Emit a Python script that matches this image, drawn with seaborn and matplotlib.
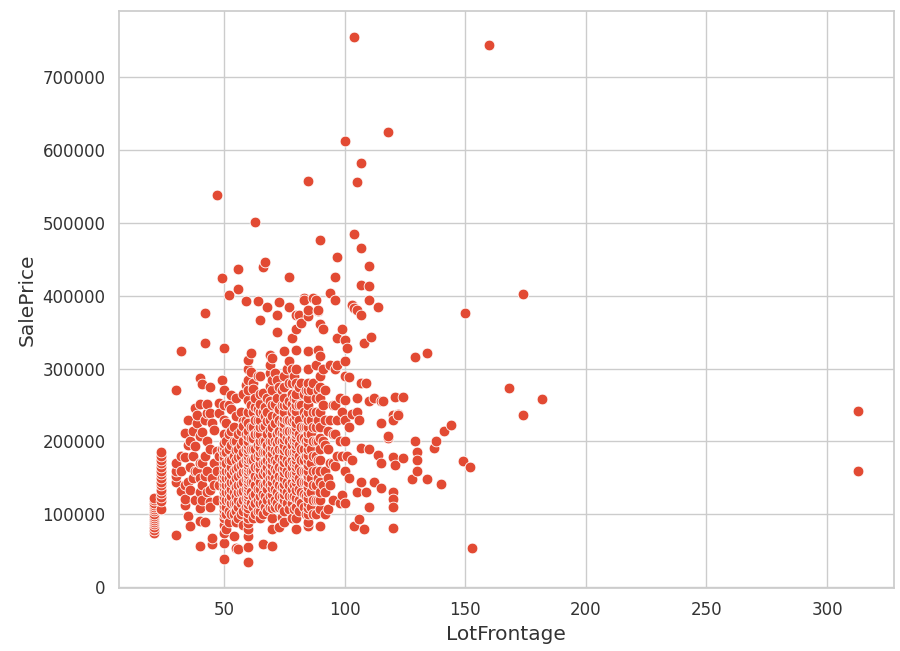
import numpy as np
import pandas as pd
import matplotlib
matplotlib.use("Agg")
import matplotlib.pyplot as plt
import seaborn as sns

# LotFrontage values and, for each one, the sale prices (in thousands)
lot_frontage = [
    21, 24, 30, 32, 34, 35, 36, 37, 38, 39,
    40, 41, 42, 43, 44, 45, 46, 47, 48, 49,
    50, 51, 52, 53, 54, 55, 56, 57, 58, 59,
    60, 61, 62, 63, 64, 65, 66, 67, 68, 69,
    70, 71, 72, 73, 74, 75, 76, 77, 78, 79,
    80, 81, 82, 83, 84, 85, 86, 87, 88, 89,
    90, 91, 92, 93, 94, 95, 96, 97, 98, 99,
    100, 101, 102, 103, 104, 105, 106, 107, 108, 109,
    110, 111, 112, 114, 115, 116, 118, 120, 121, 122,
    124, 128, 129, 130, 134, 137, 138, 140, 141, 144,
    149, 150, 152, 153, 160, 168, 174, 182, 313,
]

price_k = [
    [75, 79, 83, 86, 89, 92, 95, 98, 101, 104, 107, 110, 113, 116, 119, 123],
    [107, 118, 124, 129, 134, 140, 145, 150, 155, 160, 165, 170, 175, 180, 185],
    [72, 145, 152, 160, 170, 270],
    [324, 132, 160, 180],
    [211, 113, 121, 140, 178],
    [98, 145, 195, 230],
    [84, 134, 165, 200],
    [180, 150, 215],
    [194, 246, 120, 160],
    [159, 226, 237],
    [91, 109, 150, 170, 207, 251, 287, 56, 130],
    [171, 213, 279, 120, 140],
    [152, 377, 335, 90, 180, 230],
    [239, 251, 130, 160, 200],
    [275, 117, 134, 239, 110, 190],
    [59, 68, 226, 150],
    [216, 170, 140],
    [538, 187, 120, 160],
    [253, 239, 180, 140],
    [424, 284, 150, 190],
    [39, 60, 75, 85, 95, 100, 106, 112, 118, 124, 130, 136, 142, 148, 154, 160,
     166, 172, 178, 185, 192, 198, 210, 230, 250, 270, 329],
    [80, 100, 110, 120, 130, 140, 150, 160, 170, 185, 200, 225],
    [401, 90, 105, 120, 130, 140, 150, 160, 175, 190, 210, 250],
    [264, 100, 115, 125, 135, 145, 155, 165, 175, 195, 214, 245],
    [70, 100, 115, 130, 145, 160, 180, 200, 220],
    [54, 90, 105, 115, 125, 138, 150, 162, 175, 188, 200, 235, 260],
    [437, 410, 52, 95, 110, 120, 130, 140, 152, 165, 178, 190, 210],
    [100, 115, 130, 142, 155, 168, 180, 195, 215, 240],
    [85, 105, 120, 132, 145, 158, 170, 185, 200, 228, 221, 265],
    [278, 393, 110, 122, 135, 148, 160, 175, 190, 210, 230],
    [35, 55, 70, 80, 88, 95, 102, 108, 114, 119, 124, 128, 132, 136, 140, 144,
     148, 152, 156, 160, 164, 168, 172, 176, 180, 185, 190, 195, 200, 207, 215,
     225, 240, 257, 270, 285, 300, 312],
    [295, 321, 115, 130, 145, 160, 175, 190, 205, 220, 250],
    [280, 272, 95, 110, 125, 145, 160, 175, 190, 205, 220, 240],
    [502, 247, 100, 115, 128, 140, 152, 165, 178, 190, 210, 230, 260],
    [393, 215, 105, 120, 135, 150, 165, 180, 195, 210, 230, 245, 290],
    [290, 367, 95, 105, 115, 125, 135, 145, 155, 162, 170, 178, 185, 192, 200,
     210, 220, 230, 240, 252, 265],
    [439, 266, 59, 100, 115, 128, 140, 155, 170, 185, 200, 220, 240],
    [446, 248, 221, 110, 125, 140, 160, 172, 185, 200, 235],
    [384, 228, 105, 120, 135, 145, 155, 165, 175, 185, 195, 210, 240, 260],
    [319, 294, 276, 216, 305, 110, 125, 140, 150, 160, 170, 180, 190, 200, 230, 255],
    [56, 57, 80, 95, 108, 118, 128, 136, 144, 152, 160, 168, 176, 184, 192, 200,
     210, 220, 235, 250, 270, 285, 315],
    [294, 251, 110, 120, 135, 150, 162, 175, 188, 200, 225],
    [374, 351, 235, 212, 115, 130, 145, 160, 172, 185, 198, 210, 260, 285],
    [392, 82, 110, 125, 140, 152, 165, 178, 190, 202, 215, 230, 245, 275],
    [96, 110, 125, 138, 150, 162, 175, 188, 200, 212, 225, 250, 270],
    [90, 105, 120, 128, 135, 142, 150, 158, 165, 172, 180, 188, 195, 203, 210,
     218, 225, 232, 240, 250, 260, 275, 290, 324],
    [115, 130, 145, 160, 175, 190, 205, 215, 230, 250, 300],
    [426, 384, 107, 125, 140, 155, 170, 185, 200, 215, 230, 255, 280, 310],
    [95, 115, 125, 135, 145, 155, 165, 175, 185, 195, 205, 215, 228, 240, 252,
     265, 280, 300, 342],
    [107, 125, 140, 155, 170, 185, 200, 215, 230, 245, 260, 290],
    [80, 95, 110, 122, 134, 145, 150, 155, 160, 165, 170, 175, 180, 185, 190,
     195, 200, 205, 210, 215, 220, 225, 235, 242, 250, 258, 265, 280, 300, 326,
     355, 373],
    [374, 105, 120, 135, 150, 165, 180, 195, 210, 230, 250, 275],
    [363, 362, 115, 130, 145, 160, 175, 190, 205, 220, 250, 280],
    [397, 394, 110, 128, 145, 160, 175, 190, 205, 220, 240, 265],
    [100, 125, 145, 160, 180, 200, 220, 235, 270],
    [557, 378, 372, 84, 89, 100, 108, 115, 122, 130, 138, 145, 152, 160, 168,
     175, 182, 190, 198, 205, 212, 220, 230, 240, 250, 260, 270, 280, 300, 324, 380],
    [110, 130, 150, 170, 190, 210, 230, 270],
    [397, 100, 120, 140, 160, 180, 200, 220, 240, 280],
    [394, 100, 120, 140, 160, 180, 200, 220, 240, 260, 305],
    [379, 380, 326, 120, 150, 175, 200, 230, 270],
    [476, 361, 317, 84, 107, 120, 130, 145, 160, 175, 190, 205, 220, 240, 260,
     275, 290],
    [355, 140, 200, 250, 300],
    [100, 130, 160, 195, 230, 270],
    [107, 150, 190, 215],
    [404, 305, 230, 140, 170],
    [170, 250, 120, 210],
    [426, 394, 166, 210, 300, 250],
    [453, 342, 305, 180, 230],
    [116, 200, 260],
    [127, 355, 240, 180],
    [612, 339, 257, 116, 160, 200, 230, 290, 310],
    [328, 180],
    [289, 220, 150],
    [388, 387, 238, 175],
    [755, 485, 383, 84],
    [556, 381, 130, 260, 240],
    [230, 94],
    [583, 465, 415, 373, 280, 191, 144],
    [335, 80],
    [280, 130],
    [441, 414, 394, 255, 110, 190],
    [343],
    [144, 260],
    [384, 181],
    [256, 225, 170, 136],
    [255],
    [625, 205, 207],
    [236, 230, 178, 130, 121, 110, 81],
    [168, 261],
    [238, 237],
    [261, 177],
    [149],
    [316, 201],
    [186, 175, 160],
    [321, 149],
    [191],
    [201],
    [141],
    [215],
    [223],
    [173],
    [376],
    [165],
    [54],
    [745],
    [274],
    [403, 236],
    [259],
    [242, 160],
]

rows = [(x, p * 1000) for x, plist in zip(lot_frontage, price_k) for p in plist]
df = pd.DataFrame(rows, columns=["LotFrontage", "SalePrice"])

sns.set_theme(style="whitegrid")
plt.rcParams['font.family'] = ['DejaVu Sans']

fig = plt.figure(figsize=(9, 6.51), dpi=100)
ax = fig.add_axes([0.132, 0.097, 0.861, 0.886])
sns.scatterplot(data=df, x="LotFrontage", y="SalePrice", color="#E24A33",
                s=60, edgecolor="white", linewidth=0.6, ax=ax)

ax.set_xlabel("LotFrontage", fontsize=14.5, color="#333333")
ax.set_ylabel("SalePrice", fontsize=14.5, color="#333333")
ax.tick_params(labelsize=12, colors="#333333")
ax.ticklabel_format(style="plain", axis="y")

plt.savefig("out.png", dpi=100)
